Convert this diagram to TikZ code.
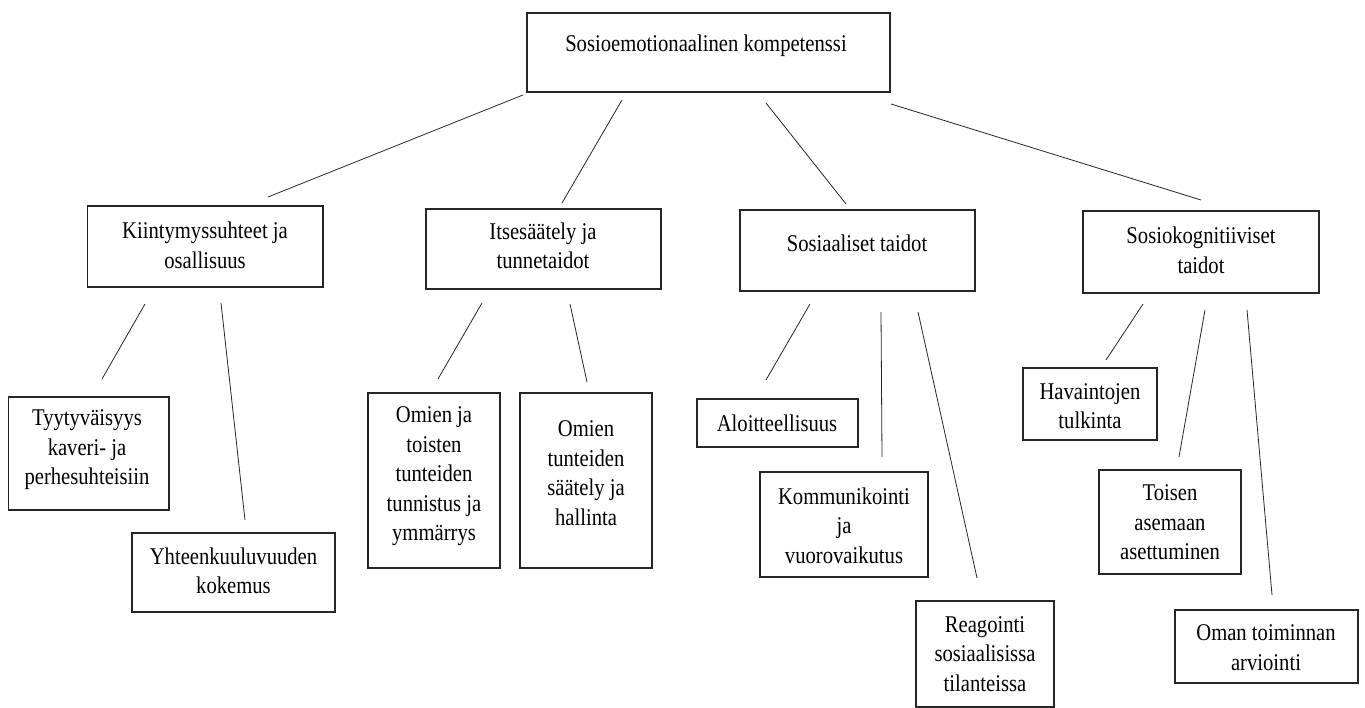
\documentclass[tikz,border=0pt]{standalone}
\usepackage{fontspec}
\setmainfont{Liberation Serif}[FakeStretch=0.86]
\begin{document}
\begin{tikzpicture}[x=1pt,y=-1pt,
  box/.style={draw=black!85,line width=1.1pt,inner sep=0pt,outer sep=0pt},
  txt/.style={inner sep=0pt,align=center,font=\fontsize{24}{29.5}\selectfont},
  conn/.style={draw=black!85,line width=0.8pt}]
\useasboundingbox[fill=white] (0,0) rectangle (1365,708);
% boxes
\node[box,minimum width=363pt,minimum height=79pt] (top) at (708.5,52.5) {};
\node[box,minimum width=235.5pt,minimum height=81pt] (kii) at (205.25,246.5) {};
\node[box,minimum width=235pt,minimum height=80pt] (its) at (543.5,249) {};
\node[box,minimum width=235pt,minimum height=81pt] (sos) at (857.5,250.5) {};
\node[box,minimum width=236pt,minimum height=82pt] (skg) at (1201,252) {};
\node[box,minimum width=160.5pt,minimum height=113pt] (tyy) at (88.75,453.5) {};
\node[box,minimum width=203pt,minimum height=79pt] (yht) at (233.5,572.5) {};
\node[box,minimum width=132pt,minimum height=175pt] (omt) at (434,480.5) {};
\node[box,minimum width=132pt,minimum height=175pt] (omh) at (586,480.5) {};
\node[box,minimum width=161pt,minimum height=48pt] (alo) at (777.5,423) {};
\node[box,minimum width=168pt,minimum height=105pt] (kom) at (844,524.5) {};
\node[box,minimum width=138pt,minimum height=106pt] (rea) at (985,654) {};
\node[box,minimum width=134pt,minimum height=72pt] (hav) at (1090,404) {};
\node[box,minimum width=142pt,minimum height=104pt] (toi) at (1170,522) {};
\node[box,minimum width=183pt,minimum height=73pt] (oma) at (1266.5,646.5) {};
% texts
\node[txt] (top-t) at (706,46) {Sosioemotionaalinen kompetenssi};
\node[txt] (kii-t) at (205,245.5) {Kiintymyssuhteet ja\\osallisuus};
\node[txt] (its-t) at (543,246) {Itsesäätely ja\\tunnetaidot};
\node[txt] (sos-t) at (857,243) {Sosiaaliset taidot};
\node[txt] (skg-t) at (1201,250.5) {Sosiokognitiiviset\\taidot};
\node[txt] (tyy-t) at (87,450) {Tyytyväisyys\\kaveri- ja\\perhesuhteisiin};
\node[txt] (yht-t) at (233.5,571) {Yhteenkuuluvuuden\\kokemus};
\node[txt] (omt-t) at (434,476.5) {Omien ja\\toisten\\tunteiden\\tunnistus ja\\ymmärrys};
\node[txt] (omh-t) at (586,473) {Omien\\tunteiden\\säätely ja\\hallinta};
\node[txt] (alo-t) at (777,423) {Aloitteellisuus};
\node[txt] (kom-t) at (844,525.5) {Kommunikointi\\ja\\vuorovaikutus};
\node[txt] (rea-t) at (985,654) {Reagointi\\sosiaalisissa\\tilanteissa};
\node[txt] (hav-t) at (1090,406) {Havaintojen\\tulkinta};
\node[txt] (toi-t) at (1170,522.5) {Toisen\\asemaan\\asettuminen};
\node[txt] (oma-t) at (1266,647.5) {Oman toiminnan\\arviointi};
% connector ends
\coordinate (l1a) at (523,95);  \coordinate (l1b) at (268,197);
\coordinate (l2a) at (622,100); \coordinate (l2b) at (562,203);
\coordinate (l3a) at (766,103); \coordinate (l3b) at (846,204);
\coordinate (l4a) at (891,104); \coordinate (l4b) at (1201,200);
\coordinate (k1a) at (145,304); \coordinate (k1b) at (102,379);
\coordinate (k2a) at (221,303); \coordinate (k2b) at (245,520);
\coordinate (i1a) at (482,303); \coordinate (i1b) at (438,379);
\coordinate (i2a) at (570,304); \coordinate (i2b) at (587,382);
\coordinate (s1a) at (810,304); \coordinate (s1b) at (766,380);
\coordinate (s2a) at (881,312); \coordinate (s2b) at (882,457);
\coordinate (s3a) at (918,312); \coordinate (s3b) at (977,578);
\coordinate (c1a) at (1143,304); \coordinate (c1b) at (1106,360);
\coordinate (c2a) at (1205,310); \coordinate (c2b) at (1179,457);
\coordinate (c3a) at (1247,310); \coordinate (c3b) at (1272,595);
% connectors
\draw[conn] (l1a) -- (l1b);
\draw[conn] (l2a) -- (l2b);
\draw[conn] (l3a) -- (l3b);
\draw[conn] (l4a) -- (l4b);
\draw[conn] (k1a) -- (k1b);
\draw[conn] (k2a) -- (k2b);
\draw[conn] (i1a) -- (i1b);
\draw[conn] (i2a) -- (i2b);
\draw[conn] (s1a) -- (s1b);
\draw[conn] (s2a) -- (s2b);
\draw[conn] (s3a) -- (s3b);
\draw[conn] (c1a) -- (c1b);
\draw[conn] (c2a) -- (c2b);
\draw[conn] (c3a) -- (c3b);
\end{tikzpicture}
\end{document}
